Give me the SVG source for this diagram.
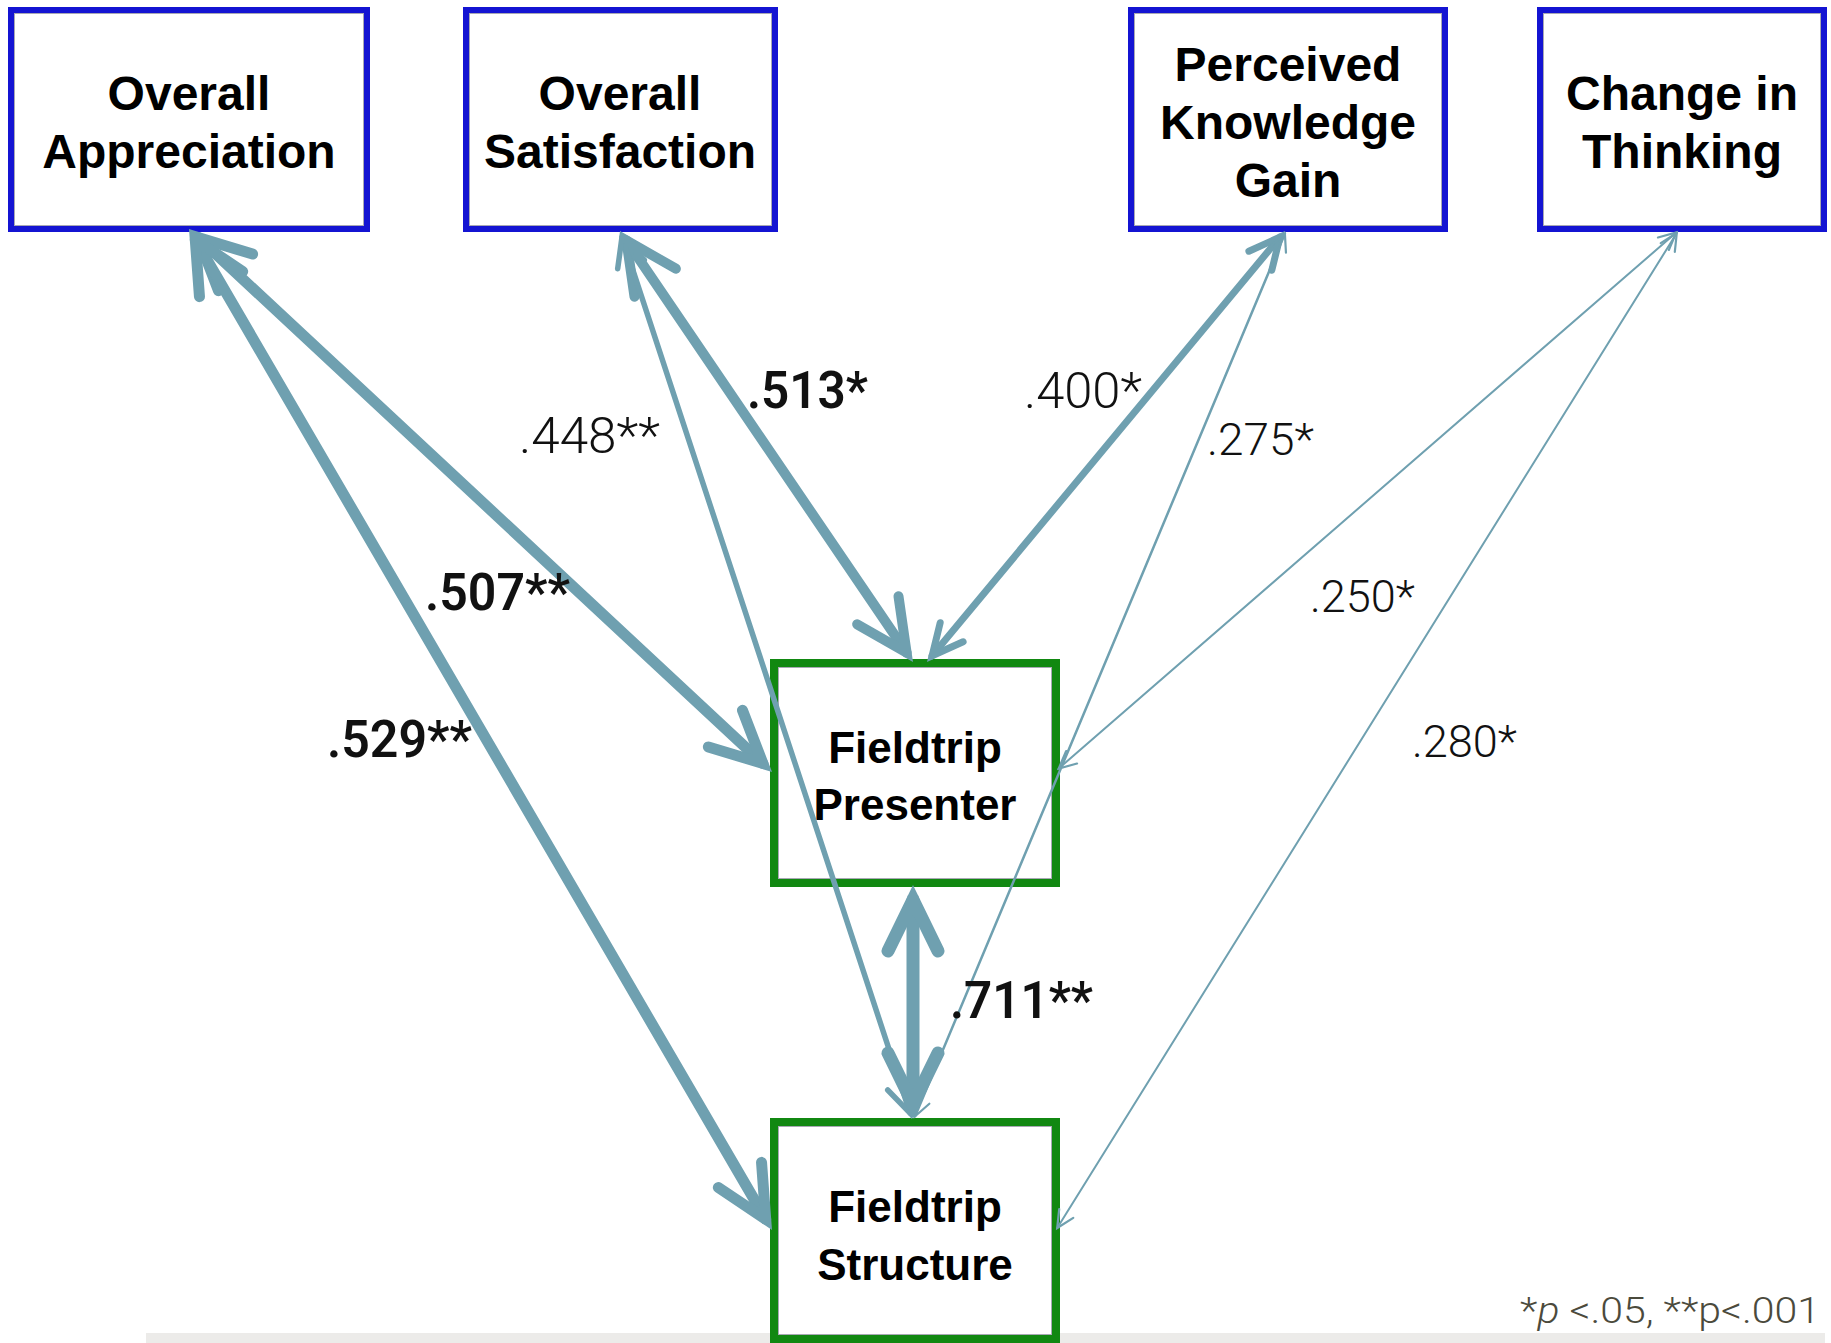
<svg xmlns="http://www.w3.org/2000/svg" width="1831" height="1343" viewBox="0 0 1831 1343">
  <style>
    .outcome rect.frame { fill: #ffffff; stroke: #1414d2; stroke-width: 6; }
    .factor rect.frame { fill: #ffffff; stroke: #118811; stroke-width: 8; }
    rect.edge { fill: none; stroke: #a8a8b4; stroke-width: 1; }
    .node-text { font-family: "Liberation Sans", Arial, sans-serif; font-weight: bold; fill: #000000; text-anchor: middle; }
    .outcome .node-text { font-size: 48px; }
    .factor .node-text { font-size: 44px; }
    .link { fill: none; stroke: #6fa0b0; stroke-linecap: round; }
    .head path { fill: none; stroke: #6fa0b0; stroke-linecap: round; stroke-linejoin: miter; stroke-miterlimit: 4; }
    .coef { font-family: Roboto, "Liberation Sans", Arial, sans-serif; fill: #111111; }
    .coef.strong { font-weight: 600; font-size: 51px; }
    .coef.weak { font-weight: 300; }
    .note { font-family: Roboto, "Liberation Sans", Arial, sans-serif; font-weight: 300; font-size: 36px; fill: #4b4a3c; }
  </style>
  <defs>
    <marker id="headXXL" class="head" markerUnits="userSpaceOnUse" overflow="visible" markerWidth="1" markerHeight="1" refX="0" refY="0" orient="auto-start-reverse">
      <path d="M-51.2,-25 L0,0 L-51.2,25" stroke-width="13"/>
    </marker>
    <marker id="headXL" class="head" markerUnits="userSpaceOnUse" overflow="visible" markerWidth="1" markerHeight="1" refX="0" refY="0" orient="auto-start-reverse">
      <path d="M-51.2,-25 L0,0 L-51.2,25" stroke-width="11"/>
    </marker>
    <marker id="headL" class="head" markerUnits="userSpaceOnUse" overflow="visible" markerWidth="1" markerHeight="1" refX="0" refY="0" orient="auto-start-reverse">
      <path d="M-51.2,-25 L0,0 L-51.2,25" stroke-width="10"/>
    </marker>
    <marker id="headM" class="head" markerUnits="userSpaceOnUse" overflow="visible" markerWidth="1" markerHeight="1" refX="0" refY="0" orient="auto-start-reverse">
      <path d="M-30.6,-14.9 L0,0 L-30.6,14.9" stroke-width="7"/>
    </marker>
    <marker id="headS" class="head" markerUnits="userSpaceOnUse" overflow="visible" markerWidth="1" markerHeight="1" refX="0" refY="0" orient="auto-start-reverse">
      <path d="M-28.8,-14 L0,0 L-28.8,14" stroke-width="5.5"/>
    </marker>
    <marker id="headXS" class="head" markerUnits="userSpaceOnUse" overflow="visible" markerWidth="1" markerHeight="1" refX="0" refY="0" orient="auto-start-reverse">
      <path d="M-17.1,-8.3 L0,0 L-17.1,8.3" stroke-width="2.2"/>
    </marker>
  </defs>

  <rect width="1831" height="1343" fill="#ffffff"/>
  <!-- footer band -->
  <rect x="146" y="1333" width="1679" height="10" fill="#ecebe9"/>

  <!-- outcome measures -->
  <g id="overall-appreciation" class="outcome">
    <rect class="frame" x="11" y="10" width="356" height="219"/>
    <rect class="edge" x="14.5" y="13.5" width="349" height="212"/>
    <text class="node-text" x="189" y="110">Overall</text>
    <text class="node-text" x="189" y="168">Appreciation</text>
  </g>
  <g id="overall-satisfaction" class="outcome">
    <rect class="frame" x="466" y="10" width="309" height="219"/>
    <rect class="edge" x="469.5" y="13.5" width="302" height="212"/>
    <text class="node-text" x="620" y="110">Overall</text>
    <text class="node-text" x="620" y="168">Satisfaction</text>
  </g>
  <g id="perceived-knowledge-gain" class="outcome">
    <rect class="frame" x="1131" y="10" width="314" height="219"/>
    <rect class="edge" x="1134.5" y="13.5" width="307" height="212"/>
    <text class="node-text" x="1288" y="81">Perceived</text>
    <text class="node-text" x="1288" y="139">Knowledge</text>
    <text class="node-text" x="1288" y="197">Gain</text>
  </g>
  <g id="change-in-thinking" class="outcome">
    <rect class="frame" x="1540" y="10" width="284" height="219"/>
    <rect class="edge" x="1543.5" y="13.5" width="277" height="212"/>
    <text class="node-text" x="1682" y="110">Change in</text>
    <text class="node-text" x="1682" y="168">Thinking</text>
  </g>

  <!-- fieldtrip factors -->
  <g id="fieldtrip-presenter" class="factor">
    <rect class="frame" x="774" y="663" width="282" height="220"/>
    <rect class="edge" x="778.5" y="667.5" width="273" height="211"/>
    <text class="node-text" x="915" y="763">Fieldtrip</text>
    <text class="node-text" x="915" y="820">Presenter</text>
  </g>
  <g id="fieldtrip-structure" class="factor">
    <rect class="frame" x="774" y="1122" width="282" height="217"/>
    <rect class="edge" x="778.5" y="1126.5" width="273" height="208"/>
    <text class="node-text" x="915" y="1222">Fieldtrip</text>
    <text class="node-text" x="915" y="1280">Structure</text>
  </g>

  <!-- correlation paths (double-headed) -->
  <g id="connectors">
    <line class="link" x1="198.1" y1="237.5" x2="762.9" y2="763.5" stroke-width="11" marker-start="url(#headXL)" marker-end="url(#headXL)"/>
    <line class="link" x1="195.3" y1="239.8" x2="765.7" y2="1219.2" stroke-width="11" marker-start="url(#headXL)" marker-end="url(#headXL)"/>
    <line class="link" x1="626.4" y1="240.4" x2="906.6" y2="652.6" stroke-width="10" marker-start="url(#headL)" marker-end="url(#headL)"/>
    <line class="link" x1="622.0" y1="237.0" x2="910.0" y2="1113.0" stroke-width="5.5" marker-start="url(#headS)" marker-end="url(#headS)"/>
    <line class="link" x1="1279.9" y1="237.2" x2="932.1" y2="655.8" stroke-width="7" marker-start="url(#headM)" marker-end="url(#headM)"/>
    <line class="link" x1="1284.9" y1="233.7" x2="915.1" y2="1116.3" stroke-width="2.5" marker-start="url(#headXS)" marker-end="url(#headXS)"/>
    <line class="link" x1="1676.3" y1="232.5" x2="1058.7" y2="768.5" stroke-width="2" marker-start="url(#headXS)" marker-end="url(#headXS)"/>
    <line class="link" x1="1676.8" y1="233.0" x2="1057.2" y2="1228.0" stroke-width="2" marker-start="url(#headXS)" marker-end="url(#headXS)"/>
    <line class="link" x1="913" y1="899.8" x2="913" y2="1104.2" stroke-width="13" marker-start="url(#headXXL)" marker-end="url(#headXXL)"/>
  </g>

  <!-- coefficient labels -->
  <g id="labels">
    <text class="coef strong" x="747" y="408" textLength="121" lengthAdjust="spacingAndGlyphs">.513*</text>
    <text class="coef weak" x="519" y="453" font-size="50" textLength="141" lengthAdjust="spacingAndGlyphs">.448**</text>
    <text class="coef weak" x="1024" y="408" font-size="50" textLength="118" lengthAdjust="spacingAndGlyphs">.400*</text>
    <text class="coef weak" x="1207" y="455" font-size="45" textLength="107" lengthAdjust="spacingAndGlyphs">.275*</text>
    <text class="coef strong" x="425" y="610" textLength="145" lengthAdjust="spacingAndGlyphs">.507**</text>
    <text class="coef weak" x="1310" y="612" font-size="45" textLength="105" lengthAdjust="spacingAndGlyphs">.250*</text>
    <text class="coef strong" x="327" y="757" textLength="145" lengthAdjust="spacingAndGlyphs">.529**</text>
    <text class="coef weak" x="1412" y="757" font-size="45" textLength="105" lengthAdjust="spacingAndGlyphs">.280*</text>
    <text class="coef strong" x="950" y="1018" textLength="143" lengthAdjust="spacingAndGlyphs">.711**</text>
  </g>

  <text class="note" x="1520" y="1323" textLength="300" lengthAdjust="spacingAndGlyphs">*<tspan font-style="italic">p</tspan> &lt;.05, **p&lt;.001</text>
</svg>
